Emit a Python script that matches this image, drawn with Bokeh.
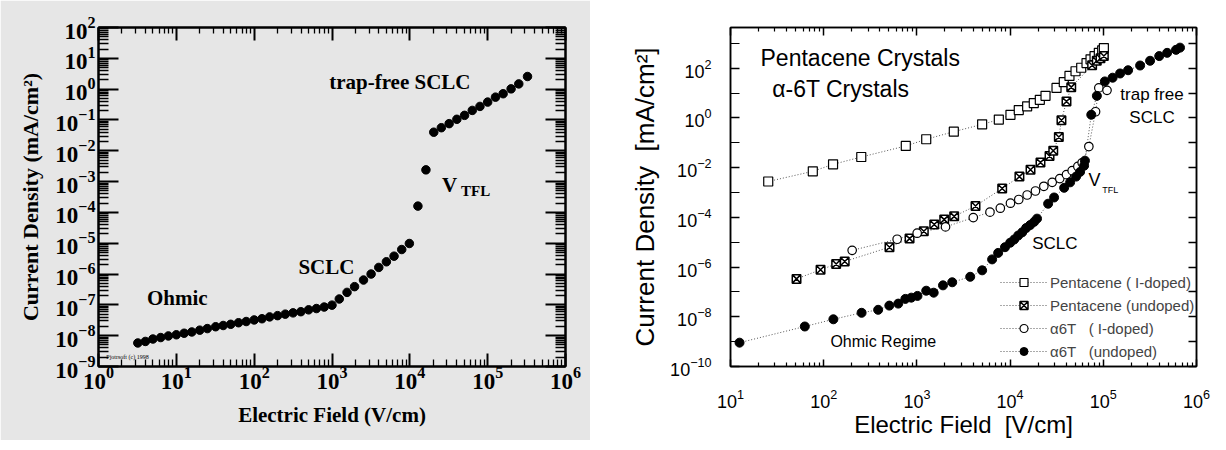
from bokeh.plotting import figure
from bokeh.layouts import row
from bokeh.models import FixedTicker, LogAxis, Label, Legend, LegendItem, CustomJSTickFormatter
from bokeh.embed import file_html
from bokeh.resources import INLINE

# ---------------- Left panel data (single sample) ----------------
field_left = [3.2, 4.0, 5.0, 6.3, 7.9, 10, 12.6, 15.8, 20, 25, 32, 40, 50, 63, 79,
              100, 126, 158, 200, 251, 316, 398, 501, 631, 794, 1000,
              1240, 1560, 1950, 2540, 3180, 3990, 5000, 6270, 7870, 9860,
              12700, 16100,
              20300, 25400, 32000, 40200, 50500, 63400, 79600, 100000, 126000,
              158000, 200000, 251000, 325000]
current_left = [5.8e-9, 6.5e-9, 7.8e-9, 8.7e-9, 9.8e-9, 1.07e-8, 1.2e-8, 1.32e-8, 1.51e-8,
                1.7e-8, 1.95e-8, 2.14e-8, 2.34e-8, 2.63e-8, 2.88e-8, 3.24e-8, 3.55e-8,
                4.07e-8, 4.47e-8, 5.0e-8, 5.5e-8, 6.0e-8, 6.9e-8, 7.6e-8, 8.5e-8, 9.8e-8,
                1.55e-7, 2.54e-7, 3.9e-7, 6.4e-7, 1.0e-6, 1.64e-6, 2.5e-6, 3.8e-6, 6.25e-6, 9.8e-6,
                1.6e-4, 2.4e-3,
                0.040, 0.056, 0.076, 0.105, 0.141, 0.204, 0.275, 0.38, 0.55,
                0.71, 1.02, 1.48, 2.57]

# ---------------- Right panel data (four samples) ----------------
pent_idoped_field = [25.4, 76.4, 126, 253, 760, 1259, 2489, 5012, 7568, 10090, 12390, 15240,
                     17950, 20840, 23990, 31480, 37670, 43350, 50350, 57940, 66070, 72950,
                     80540, 89540, 97270, 101400]
pent_idoped_current = [2.78e-3, 7.14e-3, 1.36e-2, 2.69e-2, 7.48e-2, 0.139, 0.281, 0.553, 0.861,
                       1.34, 2.08, 2.95, 3.98, 5.37, 7.76, 16.2, 27.5, 49.0, 75.9, 105, 162,
                       229, 309, 417, 525, 646]

pent_undoped_field = [51.1, 92.5, 136, 168, 508, 834, 1186, 1535, 1963, 2512, 4256, 8222,
                      12590, 16560, 21180, 26490, 29040, 33340, 35560, 40270, 45290, 75860,
                      85110, 93330, 101400]
pent_undoped_current = [3.35e-7, 7.82e-7, 1.33e-6, 1.68e-6, 6.32e-6, 1.40e-5, 2.75e-5, 5.13e-5,
                        8.13e-5, 1.10e-4, 2.88e-4, 1.46e-3, 4.37e-3, 8.32e-3, 1.62e-2, 2.95e-2,
                        4.79e-2, 0.170, 0.813, 4.57, 17.4, 132, 200, 251, 309]

a6t_idoped_field = [202, 614, 1007, 2028, 4027, 6081, 7852, 10090, 12390, 15240, 18710, 23010,
                    28310, 34120, 40270, 46340, 53330, 59290, 69980, 82600, 89540, 109600]
a6t_idoped_current = [4.72e-6, 1.32e-5, 2.31e-5, 4.14e-5, 9.8e-5, 1.62e-4, 2.34e-4, 3.72e-4,
                      5.25e-4, 7.94e-4, 1.15e-3, 1.78e-3, 2.57e-3, 3.63e-3, 5.25e-3, 7.59e-3,
                      1.12e-2, 1.58e-2, 7.08e-2, 1.78, 16.2, 12.9]

a6t_undoped_field = [12.5, 62.7, 127, 255, 384, 506, 631, 752, 871, 1014, 1259, 1514, 1905,
                     2393, 3733, 5012, 6412, 7447, 8810, 10020, 11070, 12220, 13490, 14860,
                     16410, 18110, 19450, 25590, 29650, 38020, 44060, 51050, 56360, 62230,
                     63530, 74300, 85310, 103900, 125900, 151400, 184500, 248300, 317700,
                     398100, 484200, 602600, 665300]
a6t_undoped_current = [9.1e-10, 4.07e-9, 7.94e-9, 1.45e-8, 1.91e-8, 2.82e-8, 3.39e-8, 5.25e-8,
                       5.89e-8, 6.92e-8, 1.12e-7, 9.33e-8, 1.84e-7, 2.45e-7, 4.07e-7, 7.41e-7,
                       2.04e-6, 3.72e-6, 6.31e-6, 9.55e-6, 1.29e-5, 1.86e-5, 2.51e-5, 3.72e-5,
                       4.90e-5, 6.61e-5, 8.91e-5, 3.55e-4, 6.31e-4, 1.55e-3, 2.57e-3, 4.37e-3,
                       6.76e-3, 1.20e-2, 1.91e-2, 1.35, 7.76, 29.5, 41.7, 61.7, 83.2, 129, 200,
                       309, 417, 550, 676]

legend_labels = ["Pentacene ( I-doped)", "Pentacene (undoped)",
                 "\u03b16T\u00a0\u00a0 ( I-doped)", "\u03b16T\u00a0\u00a0 (undoped)"]

GRAY = "#e6e6e6"
SERIF = "Liberation Serif"
SANS = "Liberation Sans"


def decades(lo, hi):
    return [10.0 ** k for k in range(lo, hi + 1)]


def minors(lo, hi):
    return [m * 10.0 ** k for k in range(lo, hi) for m in range(2, 10)]


def blank_labels(ax):
    ax.formatter = CustomJSTickFormatter(code="return ' '")
    ax.major_label_text_font_size = "2px"
    ax.major_label_standoff = 0
    ax.major_label_text_alpha = 0


# ======================= LEFT FIGURE =======================
p1 = figure(width=590, height=440, x_axis_type="log", y_axis_type="log",
            x_range=(1, 1e6), y_range=(1e-9, 1e2),
            output_backend="svg", toolbar_location=None,
            min_border_left=98, min_border_right=25, min_border_top=27, min_border_bottom=73,
            background_fill_color=GRAY, border_fill_color=GRAY)
p1.grid.visible = False
p1.outline_line_color = "black"
p1.outline_line_width = 2


def style_left_axis(ax, ticker, maj_in, min_in, labels=True):
    ax.ticker = ticker
    ax.axis_line_width = 2
    ax.axis_line_color = "black"
    ax.major_tick_in = maj_in
    ax.major_tick_out = 0
    ax.minor_tick_in = min_in
    ax.minor_tick_out = 0
    ax.major_tick_line_width = 2
    ax.minor_tick_line_width = 1.3
    ax.major_tick_line_color = "black"
    ax.minor_tick_line_color = "black"
    if labels:
        ax.major_label_text_font = SERIF
        ax.major_label_text_font_style = "bold"
        ax.major_label_text_font_size = "23px"
        ax.major_label_text_color = "black"
        ax.axis_label_text_font = SERIF
        ax.axis_label_text_font_style = "bold"
        ax.axis_label_text_font_size = "21px"
        ax.axis_label_text_color = "black"
    else:
        blank_labels(ax)


xt1 = FixedTicker(ticks=decades(0, 6), minor_ticks=minors(0, 6))
yt1 = FixedTicker(ticks=decades(-9, 2), minor_ticks=minors(-9, 2))

style_left_axis(p1.xaxis[0], xt1, 13, 7)
p1.xaxis[0].axis_label = "Electric Field (V/cm)"
p1.xaxis[0].major_label_standoff = 0
p1.xaxis[0].axis_label_standoff = 11

style_left_axis(p1.yaxis[0], yt1, 20, 10)
p1.yaxis[0].axis_label = "Current Density (mA/cm\u00b2)"
p1.yaxis[0].axis_label_text_font_size = "22px"
p1.yaxis[0].major_label_standoff = 3
p1.yaxis[0].axis_label_standoff = 9

top1 = LogAxis()
style_left_axis(top1, FixedTicker(ticks=decades(0, 6), minor_ticks=minors(0, 6)), 13, 6, labels=False)
p1.add_layout(top1, "above")
right1 = LogAxis()
style_left_axis(right1, FixedTicker(ticks=decades(-9, 2), minor_ticks=minors(-9, 2)), 20, 10, labels=False)
p1.add_layout(right1, "right")

p1.scatter(field_left, current_left, size=8.5, marker="circle", color="black")


def lab1(x, y, text, size="21px", font=SERIF, style="bold"):
    p1.add_layout(Label(x=x, y=y, text=text, text_font=font, text_font_size=size,
                        text_font_style=style, text_baseline="middle", text_align="left",
                        text_color="black"))


lab1(4.2, 1.7e-7, "Ohmic")
lab1(370, 1.7e-6, "SCLC")
lab1(920, 1.69, "trap-free SCLC")
lab1(25900, 7.8e-4, "V")
lab1(45500, 5.0e-4, "TFL", size="15px")
lab1(1.26, 2.0e-9, "Pjotrsoft (c) 1998", size="6px", style="normal")

# ======================= RIGHT FIGURE =======================
p2 = figure(width=634, height=440, x_axis_type="log", y_axis_type="log",
            x_range=(10, 1e6), y_range=(1e-10, 10 ** 3.64),
            output_backend="svg", toolbar_location=None,
            min_border_left=140, min_border_right=28, min_border_top=21, min_border_bottom=62,
            background_fill_color="white", border_fill_color="white")
p2.grid.visible = False
p2.outline_line_color = "black"
p2.outline_line_width = 1.5


def style_right_axis(ax, ticker, maj_in, min_in, labels=True):
    ax.ticker = ticker
    ax.axis_line_width = 1.5
    ax.axis_line_color = "black"
    ax.major_tick_in = maj_in
    ax.major_tick_out = 0
    ax.minor_tick_in = min_in
    ax.minor_tick_out = 0
    ax.major_tick_line_width = 1.5
    ax.minor_tick_line_width = 1.2
    ax.major_tick_line_color = "black"
    ax.minor_tick_line_color = "black"
    if labels:
        ax.major_label_text_font = SANS
        ax.major_label_text_font_size = "18px"
        ax.major_label_text_color = "black"
        ax.axis_label_text_font = SANS
        ax.axis_label_text_font_style = "normal"
        ax.axis_label_text_font_size = "24px"
        ax.axis_label_text_color = "black"
    else:
        blank_labels(ax)


xt2 = FixedTicker(ticks=decades(1, 6), minor_ticks=minors(1, 6))
yt2 = FixedTicker(ticks=[10.0 ** k for k in range(-10, 3, 2)],
                  minor_ticks=[10.0 ** k for k in range(-9, 4, 2)])

style_right_axis(p2.xaxis[0], xt2, 7, 4)
p2.xaxis[0].axis_label = "Electric Field\u00a0 [V/cm]"
p2.xaxis[0].major_label_standoff = 22
p2.xaxis[0].axis_label_standoff = 0

style_right_axis(p2.yaxis[0], yt2, 9, 9)
p2.yaxis[0].axis_label = "Current Density\u00a0 [mA/cm\u00b2]"
p2.yaxis[0].axis_label_text_font_size = "26px"
p2.yaxis[0].major_label_standoff = 19
p2.yaxis[0].axis_label_standoff = 7

top2 = LogAxis()
style_right_axis(top2, FixedTicker(ticks=decades(1, 6), minor_ticks=minors(1, 6)), 8, 4, labels=False)
p2.add_layout(top2, "above")
right2 = LogAxis()
style_right_axis(right2, FixedTicker(ticks=decades(-10, 3), minor_ticks=[1e-10]), 8, 0, labels=False)
p2.add_layout(right2, "right")

line_kw = dict(line_color="#555555", line_width=1, line_dash="1 2")

l1 = p2.line(pent_idoped_field, pent_idoped_current, **line_kw)
l2 = p2.line(pent_undoped_field, pent_undoped_current, **line_kw)
l3 = p2.line(a6t_idoped_field, a6t_idoped_current, **line_kw)
l4 = p2.line(a6t_undoped_field, a6t_undoped_current, **line_kw)

s1 = p2.scatter(pent_idoped_field, pent_idoped_current, marker="square", size=9,
                fill_color="white", line_color="black", line_width=1.2)
s2 = p2.scatter(pent_undoped_field, pent_undoped_current, marker="square_x", size=8.5,
                fill_color="white", line_color="black", line_width=1.5)
s3 = p2.scatter(a6t_idoped_field, a6t_idoped_current, marker="circle", size=8.5,
                fill_color="white", line_color="black", line_width=1.2)
s4 = p2.scatter(a6t_undoped_field, a6t_undoped_current, marker="circle", size=9,
                fill_color="black", line_color="black", line_width=1)

legend = Legend(items=[LegendItem(label=legend_labels[0], renderers=[l1, s1]),
                       LegendItem(label=legend_labels[1], renderers=[l2, s2]),
                       LegendItem(label=legend_labels[2], renderers=[l3, s3]),
                       LegendItem(label=legend_labels[3], renderers=[l4, s4])],
                location=(270, 5), padding=0, margin=0, spacing=3,
                glyph_width=47, glyph_height=20, label_height=20, label_standoff=3,
                label_text_font=SANS, label_text_font_size="15px",
                border_line_alpha=0, background_fill_alpha=0)
p2.add_layout(legend)


def lab2(x, y, text, size, align="left"):
    p2.add_layout(Label(x=x, y=y, text=text, text_font=SANS, text_font_size=size,
                        text_baseline="middle", text_align=align, text_color="black"))


lab2(21.0, 266, "Pentacene Crystals", "23px")
lab2(28.0, 14.1, "\u03b1-6T Crystals", "23px")
lab2(333000, 8.53, "trap free", "17px", align="center")
lab2(333000, 1.0, "SCLC", "17px", align="center")
lab2(69300, 3.2e-3, "V", "18px")
lab2(97200, 1.3e-3, "TFL", "9px")
lab2(17260, 8.5e-6, "SCLC", "17px")
lab2(118, 1.0e-9, "Ohmic Regime", "16px")

layout = row(p1, p2)
open("out.html", "w").write(file_html(layout, INLINE))
